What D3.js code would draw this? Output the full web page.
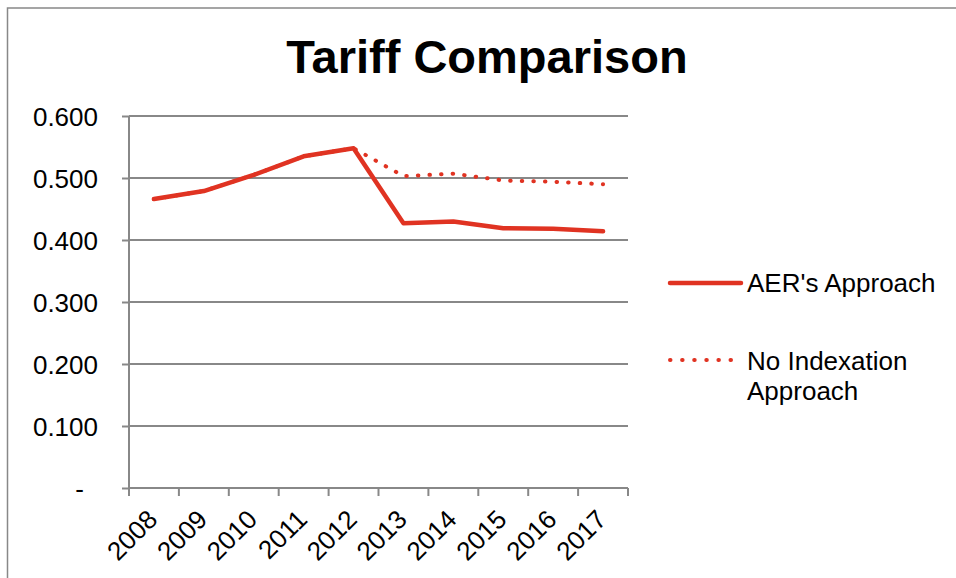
<!DOCTYPE html>
<html>
<head>
<meta charset="utf-8">
<script src="https://cdn.jsdelivr.net/npm/d3@7"></script>
<style>
  html, body { margin: 0; padding: 0; background: #fff; }
  svg { display: block; font-family: "Liberation Sans", Arial, sans-serif; }
</style>
</head>
<body>
<svg id="chart" width="956" height="578"></svg>
<script>
// Years on the category axis
const categories = ["2008", "2009", "2010", "2011", "2012", "2013", "2014", "2015", "2016", "2017"];
// Tariff under the AER's approach
const aerApproach = [0.466, 0.479, 0.505, 0.535, 0.548, 0.427, 0.430, 0.419, 0.418, 0.414];
// Tariff with no indexation
const noIndexation = [0.466, 0.479, 0.505, 0.535, 0.548, 0.503, 0.507, 0.496, 0.494, 0.490];
// Value-axis ticks
const yTicks = [0, 0.1, 0.2, 0.3, 0.4, 0.5, 0.6];
const seriesNames = ["AER's Approach", "No Indexation Approach"];

const red = "#E03322";
const grey = "#888888";

const svg = d3.select("#chart");

// Outer chart frame
svg.append("rect")
  .attr("x", 7.5).attr("y", 8)
  .attr("width", 1000).attr("height", 1000)
  .attr("fill", "none").attr("stroke", grey).attr("stroke-width", 1.5);

// Title
svg.append("text")
  .attr("x", 487).attr("y", 73)
  .attr("text-anchor", "middle")
  .attr("font-size", 47).attr("font-weight", "bold")
  .attr("fill", "#000")
  .text("Tariff Comparison");

const plot = { left: 129, right: 628, top: 116, bottom: 488 };

const x = d3.scaleBand().domain(categories).range([plot.left, plot.right]);
const y = d3.scaleLinear().domain([0, 0.6]).range([plot.bottom, plot.top]);
const cx = c => x(c) + x.bandwidth() / 2;

// Horizontal gridlines
svg.append("g").selectAll("line")
  .data(yTicks.filter(v => v > 0))
  .join("line")
  .attr("x1", plot.left).attr("x2", plot.right)
  .attr("y1", d => y(d)).attr("y2", d => y(d))
  .attr("stroke", grey).attr("stroke-width", 2);

// Value axis
const yAxis = d3.axisLeft(y)
  .tickValues(yTicks)
  .tickSize(7)
  .tickPadding(24)
  .tickFormat(d => d === 0 ? "-" : d3.format(".3f")(d));
const yg = svg.append("g")
  .attr("transform", `translate(${plot.left},0)`)
  .call(yAxis);
yg.select(".domain").attr("stroke", grey).attr("stroke-width", 2)
  .attr("d", `M0,${plot.top}V${plot.bottom}`);
yg.selectAll(".tick line").attr("stroke", grey).attr("stroke-width", 2);
yg.selectAll(".tick text")
  .attr("font-size", 26).attr("fill", "#000")
  .attr("font-family", "Liberation Sans, Arial, sans-serif")
  .attr("dy", "0.37em")
  .attr("dx", d => d === 0 ? -14 : 0);

// Category axis line and boundary ticks
const xg = svg.append("g");
xg.append("line")
  .attr("x1", plot.left).attr("x2", plot.right)
  .attr("y1", plot.bottom).attr("y2", plot.bottom)
  .attr("stroke", grey).attr("stroke-width", 2);
const bounds = categories.map(c => x(c)).concat([x.range()[1]]);
xg.selectAll("line.tick")
  .data(bounds)
  .join("line")
  .attr("class", "tick")
  .attr("x1", d => d).attr("x2", d => d)
  .attr("y1", plot.bottom).attr("y2", plot.bottom + 8)
  .attr("stroke", grey).attr("stroke-width", 2);

// Rotated year labels
xg.selectAll("text")
  .data(categories)
  .join("text")
  .attr("transform", d => `translate(${cx(d) + 5},${plot.bottom + 33}) rotate(-45)`)
  .attr("text-anchor", "end")
  .attr("font-size", 26).attr("fill", "#000")
  .text(d => d);

// Series lines
const line = d3.line()
  .x((d, i) => cx(categories[i]))
  .y(d => y(d));

svg.append("path")
  .datum(noIndexation)
  .attr("d", line)
  .attr("fill", "none")
  .attr("stroke", red).attr("stroke-width", 4)
  .attr("stroke-linecap", "round")
  .attr("stroke-dasharray", "0.5,11.1");

svg.append("path")
  .datum(aerApproach)
  .attr("d", line)
  .attr("fill", "none")
  .attr("stroke", red).attr("stroke-width", 4.5)
  .attr("stroke-linejoin", "round")
  .attr("stroke-linecap", "round");

// Legend
const legend = svg.append("g");
legend.append("line")
  .attr("x1", 670).attr("x2", 741)
  .attr("y1", 283).attr("y2", 283)
  .attr("stroke", red).attr("stroke-width", 4.5)
  .attr("stroke-linecap", "round");
legend.append("text")
  .attr("x", 747).attr("y", 292)
  .attr("font-size", 26).attr("fill", "#000")
  .text(seriesNames[0]);

legend.append("line")
  .attr("x1", 670).attr("x2", 732)
  .attr("y1", 360).attr("y2", 360)
  .attr("stroke", red).attr("stroke-width", 4)
  .attr("stroke-linecap", "round")
  .attr("stroke-dasharray", "0.5,11.6");
const t2 = legend.append("text")
  .attr("x", 747).attr("y", 369.5)
  .attr("font-size", 26).attr("fill", "#000");
t2.append("tspan").attr("x", 747).text("No Indexation");
t2.append("tspan").attr("x", 747).attr("dy", 30).text("Approach");
</script>
</body>
</html>
